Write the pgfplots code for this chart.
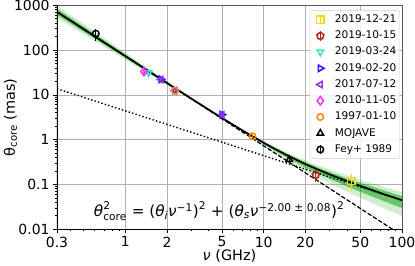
\documentclass[border=0pt]{standalone}
\usepackage{fontspec}
\setmainfont{DejaVu Sans}
\usepackage{amsmath}
\usepackage{pgfplots}
\pgfplotsset{compat=1.18}
\usetikzlibrary{plotmarks}
\definecolor{bandg}{RGB}{0,160,0}
\definecolor{cgold}{RGB}{255,215,0}
\definecolor{cred}{RGB}{178,34,34}
\definecolor{cturq}{RGB}{64,224,208}
\definecolor{cblue}{RGB}{30,30,255}
\definecolor{cpurp}{RGB}{150,50,240}
\definecolor{cmag}{RGB}{240,50,240}
\definecolor{corange}{RGB}{255,140,0}
\definecolor{gridc}{RGB}{176,176,176}
\pgfplotsset{
  mkleg/.style={legend image code/.code={%
    \path[draw=none,fill=none] (0cm,0cm) -- (0.76cm,0cm);
    \draw[##1] plot[only marks] coordinates {(0.3cm,0cm)};}},
  errleg/.style={legend image code/.code={%
    \path[draw=none,fill=none] (0cm,0cm) -- (0.76cm,0cm);
    \draw[##1] plot[only marks] coordinates {(0.3cm,0cm)};
    \draw[##1,line width=1.2pt] (0.3cm,-0.17cm) -- (0.3cm,0.17cm);}},
  mk/.style={only marks, mark size=3.7pt, line width=1.5pt, color=#1,
    mark options={solid, fill=none},
    error bars/y dir=both, error bars/y explicit relative,
    error bars/error bar style={line width=1.3pt, #1}, error bars/error mark=none},
}
\begin{document}
\begin{tikzpicture}
\useasboundingbox (-57bp,-36bp) rectangle (358bp,229.3bp);
\begin{axis}[
  scale only axis, width=345bp, height=224bp,
  xmode=log, ymode=log,
  xmin=0.32, xmax=100, ymin=0.01, ymax=1000,
  xtick={0.32,1,2,5,10,20,50,100},
  xticklabels={0.3,1,2,5,10,20,50,100},
  minor xtick={0.4,0.5,0.6,0.7,0.8,0.9,3,4,6,7,8,9,30,40,60,70,80,90},
  ytick={0.01,0.1,1,10,100,1000},
  yticklabels={0.01,0.1,1,10,100,1000},
  minor ytick={0.02,0.03,0.04,0.05,0.06,0.07,0.08,0.09,0.2,0.3,0.4,0.5,0.6,0.7,0.8,0.9,2,3,4,5,6,7,8,9,20,30,40,50,60,70,80,90,200,300,400,500,600,700,800,900},
  /pgf/number format/assume math mode=true,
  tick label style={font=\fontsize{14}{16}\selectfont},
  tick align=outside, xtick pos=bottom, ytick pos=left,
  major tick length=4pt, minor tick length=2.2pt,
  every tick/.style={black, line width=0.8pt},
  grid=major, major grid style={gridc, line width=0.8pt},
  axis line style={draw=black!65, line width=0.8pt},
  xlabel={\textit{ν} (GHz)}, ylabel={θ\textsubscript{core} (mas)},
  label style={font=\fontsize{14.5}{16}\selectfont},
  xlabel style={at={(axis description cs:0.5,-0.118)}, anchor=center},
  ylabel style={at={(axis description cs:-0.135,0.5)}, anchor=center},
  legend style={at={(rel axis cs:0.994,0.978)}, anchor=north east,
    font=\fontsize{10.6}{12}\selectfont, draw=black!20, rounded corners=2pt,
    fill=white, fill opacity=0.85, text opacity=1,
    row sep=3.9pt, nodes={inner sep=1.5pt, text height=7.6pt, text depth=1.8pt},
    inner xsep=2pt, inner ysep=3pt},
  legend cell align=left,
]
% posterior band (outer)
\addplot[fill=bandg, fill opacity=0.18, draw=none, forget plot] coordinates {
(0.32,984)(0.4,613)(0.5,381)(0.7,187)(1,87.7)(1.5,37.1)(2,20.3)(3,8.63)(4,4.91)(5,3.19)(7,1.693)(10,0.937)(12,0.705)(15,0.509)(20,0.346)(25,0.264)(30,0.215)(40,0.159)(50,0.1274)(70,0.0932)(100,0.0675)
(100,0.0199)(70,0.0319)(50,0.0505)(40,0.0692)(30,0.1058)(25,0.1402)(20,0.2023)(15,0.3357)(12,0.5121)(10,0.7356)(7,1.544)(5,2.913)(4,4.482)(3,7.872)(2,16.69)(1.5,28.57)(1,60.97)(0.7,119.0)(0.5,223.6)(0.4,339.9)(0.32,516.5)};
% posterior band (inner)
\addplot[fill=bandg, fill opacity=0.5, draw=none, forget plot] coordinates {
(0.32,837.6)(0.4,528.9)(0.5,333.8)(0.7,166.9)(1,80.08)(1.5,34.79)(2,19.30)(3,8.434)(4,4.802)(5,3.121)(7,1.655)(10,0.8936)(12,0.6642)(15,0.4719)(20,0.3145)(25,0.2361)(30,0.1898)(40,0.1376)(50,0.1087)(70,0.0776)(100,0.0549)
(100,0.0298)(70,0.0454)(50,0.0684)(40,0.0908)(30,0.1331)(25,0.1721)(20,0.2405)(15,0.3832)(12,0.5661)(10,0.7919)(7,1.580)(5,2.980)(4,4.586)(3,8.055)(2,17.51)(1.5,30.51)(1,66.78)(0.7,133.2)(0.5,255.6)(0.4,393.9)(0.32,606.8)};
% dotted: theta_i nu^-1
\addplot[black, line width=1.4pt, dash pattern=on 1.4pt off 2.2pt, forget plot] coordinates {(0.32,13.75)(100,0.044)};
% dashed: theta_s nu^-2
\addplot[black, line width=1.2pt, dash pattern=on 4.4pt off 1.9pt, forget plot] coordinates {(0.32,712.9)(100,0.0073)};
% best fit
\addplot[black, line width=1.7pt, forget plot] coordinates {
(0.32,713.0)(0.4,456.4)(0.5,292.1)(0.7,149.1)(1,73.13)(1.5,32.58)(2,18.38)(3,8.243)(4,4.693)(5,3.050)(7,1.617)(10,0.8524)(12,0.6257)(15,0.4374)(20,0.2858)(25,0.2112)(30,0.1676)(40,0.1191)(50,0.0927)(70,0.0646)(100,0.0446)};
% measurements
\addplot[mk=cgold, mark=square, errleg] coordinates {(43,0.12) +- (0,0.4)};
\addlegendentry{2019-12-21}
\addplot[mk=cred, mark=pentagon, errleg] coordinates {(23.8,0.163) +- (0,0.3)};
\addlegendentry{2019-10-15}
\addplot[mk=cturq, mark=triangle, mark options={rotate=180}, mkleg] coordinates {(1.47,31.3) +- (0,0.1)};
\addlegendentry{2019-03-24}
\addplot[mk=cblue, mark=triangle, mark options={rotate=-90}, mkleg] coordinates {(1.81,22.3) +- (0,0.1) (2.28,12.6) +- (0,0.1) (5.0,3.62) +- (0,0.1)};
\addlegendentry{2019-02-20}
\addplot[mk=cpurp, mark=triangle, mark options={rotate=90}, mkleg] coordinates {(1.81,22.0) +- (0,0.1) (2.28,12.4) +- (0,0.1) (5.0,3.6) +- (0,0.1)};
\addlegendentry{2017-07-12}
\addplot[mk=cmag, mark=diamond, mark size=4.2pt, mkleg] coordinates {(1.36,33.0) +- (0,0.1)};
\addlegendentry{2010-11-05}
\addplot[mk=corange, mark=o, mark size=3.3pt, mkleg] coordinates {(2.28,12.4) +- (0,0.1) (8.3,1.19) +- (0,0.1)};
\addlegendentry{1997-01-10}
\addplot[mk=black, mark=triangle, mkleg] coordinates {(15.3,0.36) +- (0,0.1)};
\addlegendentry{MOJAVE}
\addplot[mk=black, mark=o, mark size=3.3pt, errleg] coordinates {(0.61,233) +- (0,0.3)};
\addlegendentry{Fey+ 1989}
\draw[black, line width=1.2pt] (rel axis cs:0,1) -- (rel axis cs:0,0) -- (rel axis cs:1,0);
\node[font=\fontsize{15.3}{18}\selectfont, anchor=center] at (axis description cs:0.47,0.082)
 {$\text{\textit{θ}}^{\text{2}}_{\text{core}}\text{ = (}\text{\textit{θ}}_{\text{\textit{i}}}\text{\textit{ν}}^{\text{−1}}\text{)}^{\text{2}}\text{ + (}\text{\textit{θ}}_{\text{\textit{s}}}\text{\textit{ν}}^{\text{−2.00 ± 0.08}}\text{)}^{\text{2}}$};
\end{axis}
\end{tikzpicture}
\end{document}
